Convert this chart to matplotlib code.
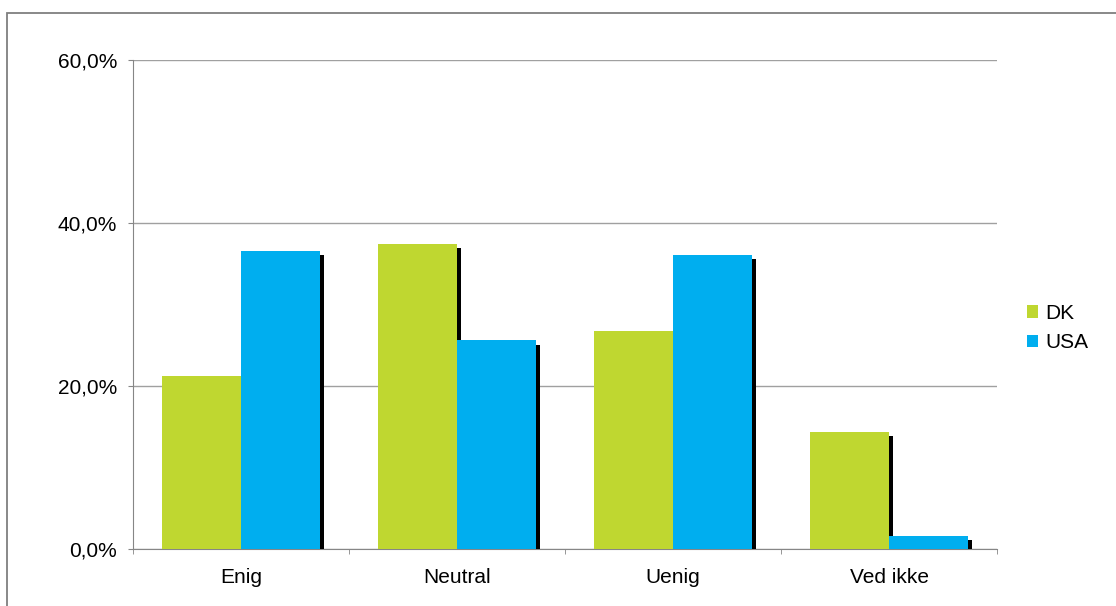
import numpy as np
import matplotlib
matplotlib.use('Agg')
from matplotlib import pyplot as plt
from matplotlib import patheffects as pe
from matplotlib.patches import Rectangle

plt.rcParams['font.family'] = ['Liberation Sans', 'DejaVu Sans']

categories = ['Enig', 'Neutral', 'Uenig', 'Ved ikke']
dk = [21.2, 37.4, 26.7, 14.4]
usa = [36.6, 25.6, 36.1, 1.6]
yticks = [0, 20, 40, 60]
ytick_labels = ['0,0%', '20,0%', '40,0%', '60,0%']

fig = plt.figure(figsize=(11.16, 6.06), dpi=100)
ax = fig.add_axes([0.1192, 0.0941, 0.7742, 0.8069])

# outer chart border (runs off the right and bottom edge)
fig.patches.append(Rectangle((7/1116, -0.1), 1.2, 1 - 13/606 + 0.1,
                             transform=fig.transFigure, fill=False,
                             edgecolor='#7f7f7f', linewidth=1.3))

x = np.arange(len(categories))
w = 0.367
b1 = ax.bar(x - w/2, dk, w, color='#bfd730', label='DK', zorder=3)
b2 = ax.bar(x + w/2, usa, w, color='#00aeef', label='USA', zorder=3)

ax.set_xlim(-0.5, 3.5)
ax.set_ylim(0, 60)
ax.set_yticks(yticks)
ax.set_yticklabels(ytick_labels)
ax.set_xticks(x)
ax.set_xticklabels(categories)
ax.set_xticks(np.arange(-0.5, 4, 1), minor=True)
ax.tick_params(axis='x', which='major', length=0, pad=14, labelsize=15)
ax.tick_params(axis='x', which='minor', length=3.6, color='#868686', direction='out')
ax.tick_params(axis='y', length=3.6, color='#868686', direction='out', pad=8, labelsize=15)
ax.yaxis.grid(True, color='#a0a0a0', linewidth=1, zorder=0)
ax.set_axisbelow(True)
for s in ['top', 'right']:
    ax.spines[s].set_visible(False)
ax.spines['left'].set_color('#868686')
ax.spines['bottom'].set_color('#868686')

ax.legend(loc='center left', bbox_to_anchor=(1.035, 0.452), frameon=False,
          fontsize=15, handlelength=0.53, handleheight=0.53, handletextpad=0.33,
          labelspacing=0.5, borderpad=0, borderaxespad=0)

# drop shadow on the bars only (legend keys stay flat)
shadow = [pe.SimplePatchShadow(offset=(3, -3), shadow_rgbFace='black', alpha=1), pe.Normal()]
for b in list(b1) + list(b2):
    b.set_path_effects(shadow)

fig.savefig('out.png', dpi=100)
